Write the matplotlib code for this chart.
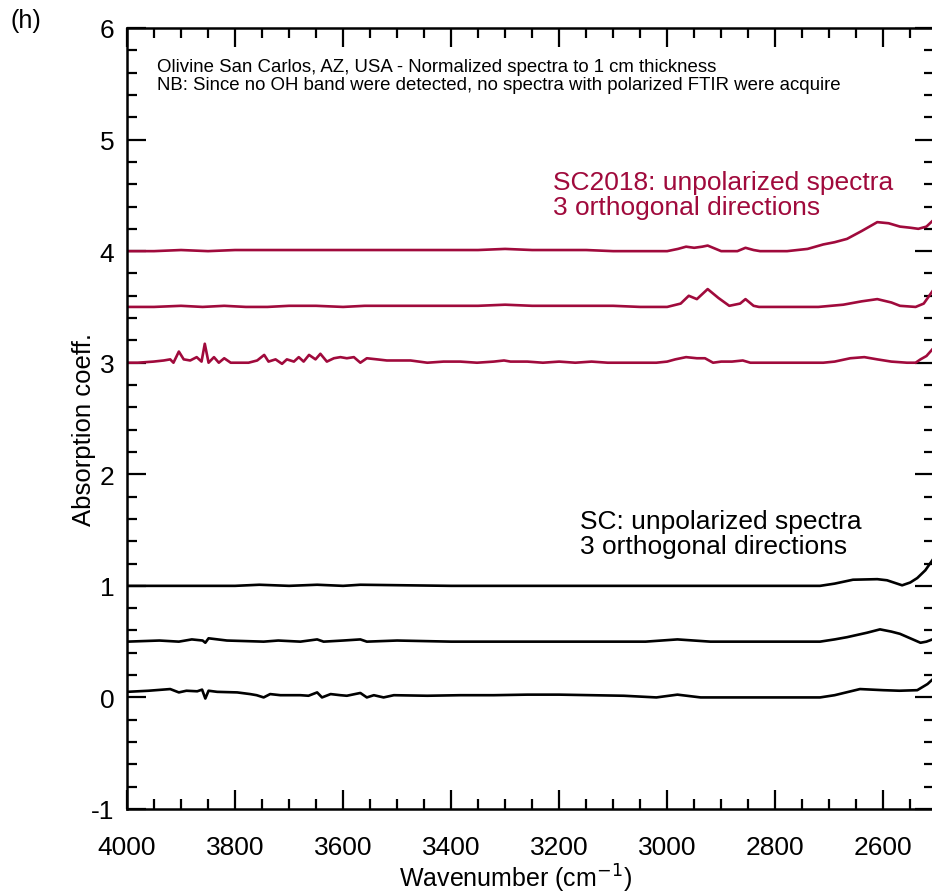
import matplotlib
matplotlib.use("Agg")
import matplotlib.pyplot as plt
from matplotlib.ticker import MultipleLocator

plt.rcParams['font.family'] = ['Liberation Sans', 'DejaVu Sans']
plt.rcParams['axes.unicode_minus'] = False

RED = '#A00A3C'

# SC2018, lowest trace (offset 3)
w_r3 = [4000, 3980, 3951, 3932, 3920, 3914, 3904, 3895, 3883, 3871, 3862, 3856, 3849,
        3839, 3830, 3820, 3808, 3795, 3775, 3759, 3746, 3738, 3725, 3713, 3704, 3691,
        3682, 3673, 3663, 3651, 3642, 3630, 3617, 3605, 3593, 3580, 3568, 3556, 3537,
        3519, 3500, 3475, 3444, 3414, 3383, 3352, 3321, 3302, 3290, 3259, 3230, 3200,
        3170, 3140, 3110, 3080, 3050, 3020, 3000, 2985, 2965, 2945, 2930, 2915, 2900,
        2880, 2860, 2846, 2830, 2800, 2760, 2711, 2690, 2661, 2635, 2611, 2585, 2556,
        2540, 2531, 2520, 2509]
v_r3 = [3.00, 3.00, 3.01, 3.02, 3.03, 3.00, 3.10, 3.03, 3.02, 3.05, 3.01, 3.17, 3.00,
        3.05, 3.00, 3.04, 3.00, 3.00, 3.00, 3.02, 3.07, 3.01, 3.03, 2.99, 3.03, 3.01,
        3.05, 3.01, 3.07, 3.03, 3.08, 3.01, 3.04, 3.05, 3.04, 3.05, 3.00, 3.04, 3.03,
        3.02, 3.02, 3.02, 3.00, 3.01, 3.01, 3.00, 3.01, 3.02, 3.01, 3.01, 3.00, 3.01,
        3.00, 3.01, 3.00, 3.00, 3.00, 3.00, 3.01, 3.03, 3.05, 3.04, 3.04, 3.00, 3.01,
        3.01, 3.02, 3.00, 3.00, 3.00, 3.00, 3.00, 3.01, 3.04, 3.05, 3.03, 3.01, 3.00,
        3.00, 3.03, 3.06, 3.12]

# SC2018, middle trace (offset 3.5)
w_r35 = [4000, 3950, 3900, 3860, 3820, 3780, 3740, 3700, 3650, 3600, 3560, 3500, 3450,
         3400, 3350, 3300, 3250, 3200, 3150, 3100, 3050, 3000, 2975, 2960, 2945, 2925,
         2905, 2885, 2865, 2855, 2840, 2830, 2780, 2720, 2674, 2640, 2611, 2585, 2569,
         2540, 2525, 2509]
v_r35 = [3.50, 3.50, 3.51, 3.50, 3.51, 3.50, 3.50, 3.51, 3.51, 3.50, 3.51, 3.51, 3.51,
         3.51, 3.51, 3.52, 3.51, 3.51, 3.51, 3.51, 3.50, 3.50, 3.53, 3.60, 3.57, 3.66,
         3.58, 3.51, 3.53, 3.57, 3.51, 3.50, 3.50, 3.50, 3.52, 3.55, 3.57, 3.54, 3.51,
         3.50, 3.53, 3.64]

# SC2018, top trace (offset 4)
w_r4 = [4000, 3950, 3900, 3850, 3800, 3750, 3700, 3650, 3600, 3550, 3500, 3450, 3400,
        3350, 3300, 3250, 3200, 3150, 3100, 3050, 3000, 2980, 2965, 2950, 2935, 2925,
        2910, 2900, 2870, 2855, 2840, 2828, 2778, 2740, 2711, 2690, 2667, 2640, 2611,
        2590, 2569, 2550, 2535, 2520, 2509]
v_r4 = [4.00, 4.00, 4.01, 4.00, 4.01, 4.01, 4.01, 4.01, 4.01, 4.01, 4.01, 4.01, 4.01,
        4.01, 4.02, 4.01, 4.01, 4.01, 4.00, 4.00, 4.00, 4.02, 4.04, 4.03, 4.04, 4.05,
        4.02, 4.00, 4.00, 4.03, 4.01, 4.00, 4.00, 4.02, 4.06, 4.08, 4.11, 4.18, 4.26,
        4.25, 4.22, 4.21, 4.20, 4.22, 4.27]

# SC, lowest trace (offset 0)
w_k0 = [4000, 3960, 3920, 3904, 3890, 3870, 3861, 3855, 3849, 3833, 3796, 3772, 3760,
        3747, 3735, 3716, 3698, 3679, 3664, 3648, 3639, 3623, 3605, 3593, 3568, 3556,
        3543, 3525, 3506, 3444, 3383, 3321, 3259, 3200, 3140, 3080, 3020, 2981, 2938,
        2860, 2780, 2717, 2690, 2643, 2600, 2570, 2537, 2518, 2509]
v_k0 = [0.05, 0.06, 0.075, 0.045, 0.06, 0.055, 0.07, -0.01, 0.06, 0.05, 0.045, 0.03, 0.02,
        0.00, 0.03, 0.02, 0.02, 0.02, 0.015, 0.045, 0.00, 0.03, 0.02, 0.015, 0.04, 0.00,
        0.02, 0.00, 0.02, 0.015, 0.02, 0.02, 0.025, 0.025, 0.02, 0.015, 0.00, 0.025, 0.00,
        0.00, 0.00, 0.00, 0.02, 0.075, 0.065, 0.06, 0.065, 0.12, 0.16]

# SC, middle trace (offset 0.5)
w_k05 = [4000, 3940, 3904, 3880, 3860, 3855, 3849, 3815, 3747, 3720, 3679, 3648, 3636,
         3600, 3568, 3556, 3500, 3400, 3300, 3200, 3100, 3040, 2981, 2920, 2800, 2717,
         2690, 2667, 2630, 2606, 2585, 2569, 2550, 2531, 2520, 2509]
v_k05 = [0.50, 0.51, 0.50, 0.52, 0.51, 0.49, 0.53, 0.51, 0.50, 0.51, 0.50, 0.52, 0.50,
         0.51, 0.52, 0.50, 0.51, 0.50, 0.50, 0.50, 0.50, 0.50, 0.52, 0.50, 0.50, 0.50,
         0.52, 0.54, 0.58, 0.61, 0.59, 0.57, 0.53, 0.49, 0.50, 0.52]

# SC, top trace (offset 1)
w_k1 = [4000, 3800, 3755, 3700, 3648, 3600, 3568, 3400, 3200, 3000, 2800, 2717, 2690,
        2656, 2611, 2593, 2565, 2550, 2537, 2522, 2509]
v_k1 = [1.00, 1.00, 1.01, 1.00, 1.01, 1.00, 1.01, 1.00, 1.00, 1.00, 1.00, 1.00, 1.02,
        1.055, 1.06, 1.05, 1.005, 1.03, 1.07, 1.14, 1.23]

fig = plt.figure(figsize=(9.32, 8.95), dpi=100)
ax = fig.add_axes([127 / 932, 85 / 895, 807 / 932, 781 / 895])

lw = 1.9
for w, v in [(w_r3, v_r3), (w_r35, v_r35), (w_r4, v_r4)]:
    ax.plot(w, v, color=RED, lw=lw, solid_joinstyle='round')
for w, v in [(w_k0, v_k0), (w_k05, v_k05), (w_k1, v_k1)]:
    ax.plot(w, v, color='black', lw=lw, solid_joinstyle='round')

ax.set_xlim(4000, 2506)
ax.set_ylim(-1, 6)
ax.xaxis.set_major_locator(MultipleLocator(200))
ax.xaxis.set_minor_locator(MultipleLocator(50))
ax.yaxis.set_major_locator(MultipleLocator(1))
ax.yaxis.set_minor_locator(MultipleLocator(0.2))
ax.tick_params(which='both', direction='in', top=True, right=True, width=1.6,
               labelsize=19)
ax.tick_params(axis='x', pad=19)
ax.tick_params(axis='y', pad=9)
ax.tick_params(which='major', length=14)
ax.tick_params(which='minor', length=7)
for s in ax.spines.values():
    s.set_linewidth(1.8)

ax.set_xlabel('Wavenumber (cm$^{-1}$)', fontsize=18)
ax.xaxis.set_label_coords(0.481, -0.067)
ax.set_ylabel('Absorption coeff.', fontsize=18.5)
ax.yaxis.set_label_coords(-0.038, 0.487)

ax.text(0.037, 0.962, 'Olivine San Carlos, AZ, USA - Normalized spectra to 1 cm thickness\n'
        'NB: Since no OH band were detected, no spectra with polarized FTIR were acquire',
        transform=ax.transAxes, fontsize=13.4, va='top', ha='left', linespacing=1.1)
ax.text(3211, 4.73, 'SC2018: unpolarized spectra\n3 orthogonal directions',
        color=RED, fontsize=19, va='top', ha='left', linespacing=1.05)
ax.text(3161, 1.69, 'SC: unpolarized spectra\n3 orthogonal directions',
        color='black', fontsize=19, va='top', ha='left', linespacing=1.05)
fig.text(10 / 932, 1 - 9 / 895, '(h)', fontsize=18, va='top', ha='left')

fig.savefig('out.png', dpi=100)
